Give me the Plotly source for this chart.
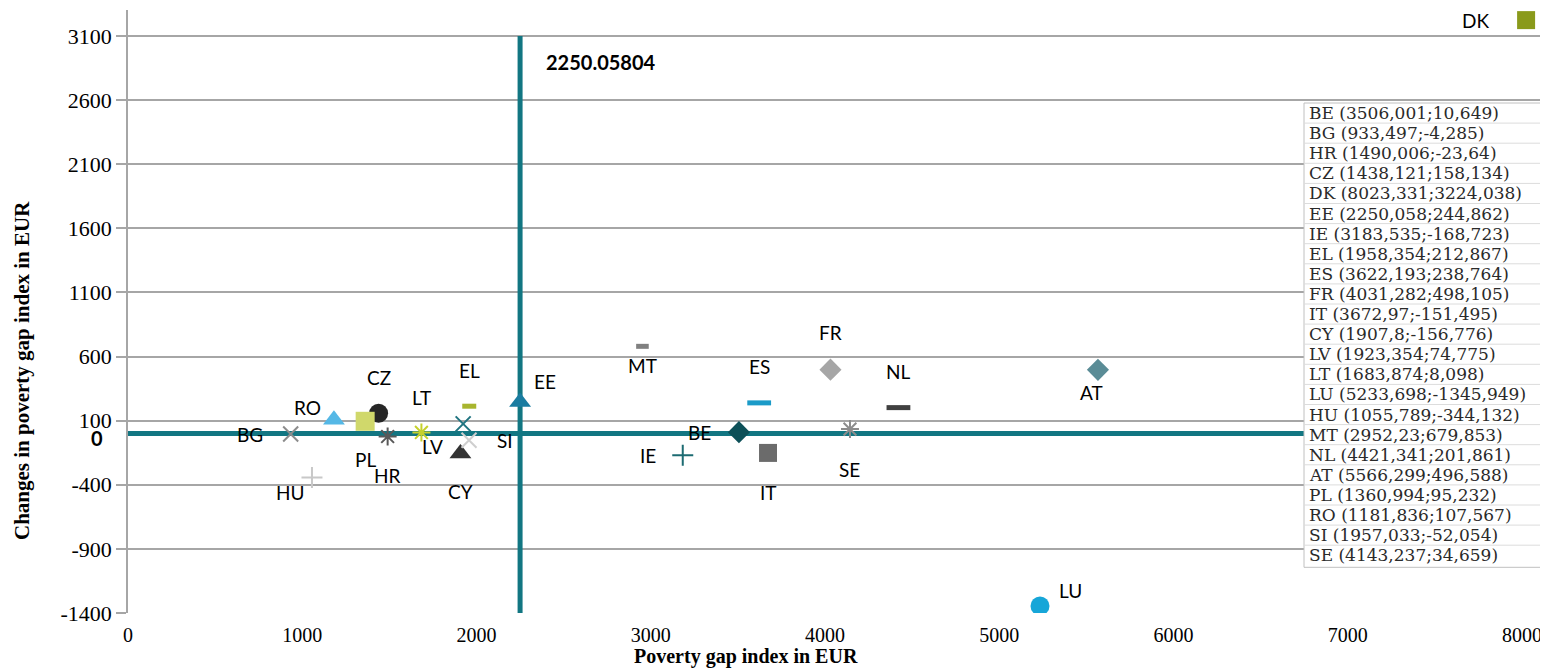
import plotly.graph_objects as go

# ---------------- data ----------------
countries = ["BE", "BG", "HR", "CZ", "DK", "EE", "IE", "EL", "ES", "FR", "IT", "CY",
             "LV", "LT", "LU", "HU", "MT", "NL", "AT", "PL", "RO", "SI", "SE"]
poverty_gap = [3506.001, 933.497, 1490.006, 1438.121, 8023.331, 2250.058, 3183.535,
               1958.354, 3622.193, 4031.282, 3672.97, 1907.8, 1923.354, 1683.874,
               5233.698, 1055.789, 2952.23, 4421.341, 5566.299, 1360.994, 1181.836,
               1957.033, 4143.237]
change = [10.649, -4.285, -23.64, 158.134, 3224.038, 244.862, -168.723, 212.867,
          238.764, 498.105, -151.495, -156.776, 74.775, 8.098, -1345.949, -344.132,
          679.853, 201.861, 496.588, 95.232, 107.567, -52.054, 34.659]
mean_gap = 2250.05804
x_ticks = [0, 1000, 2000, 3000, 4000, 5000, 6000, 7000, 8000]
y_ticks = [-1400, -900, -400, 100, 600, 1100, 1600, 2100, 2600, 3100]
y_tick_text = ["-1400", "-900", "-400", "100", "600", "1100", "1600", "2100", "2600", "3100"]

# ---------------- styles ----------------
styles = {
    "BE": ("diamond", "#0d5058", 17, 0),
    "BG": ("x-thin-open", "#8c8c8c", 15, 2),
    "HR": ("asterisk-open", "#595959", 15, 2),
    "CZ": ("circle", "#262626", 19, 0),
    "DK": ("square", "#8a9a1b", 18, 0),
    "EE": ("triangle-up", "#1a7ca0", 19, 0),
    "IE": ("cross-thin-open", "#1c6b72", 15, 2),
    "EL": ("line-ew-open", "#a8b52e", 10, 5),
    "ES": ("line-ew-open", "#1b9bc8", 17, 5),
    "FR": ("diamond", "#a6a6a6", 17, 0),
    "IT": ("square", "#6b6b6b", 18, 0),
    "CY": ("triangle-up", "#333333", 19, 0),
    "LV": ("x-thin-open", "#207480", 15, 2),
    "LT": ("asterisk-open", "#c6d12c", 15, 2),
    "LU": ("circle", "#17a6d8", 19, 0),
    "HU": ("cross-thin-open", "#c8c8c8", 15, 2),
    "MT": ("line-ew-open", "#808080", 9, 5),
    "NL": ("line-ew-open", "#404040", 17, 5),
    "AT": ("diamond", "#5a8c96", 17, 0),
    "PL": ("square", "#d0d86b", 19, 0),
    "RO": ("triangle-up", "#55b8e6", 19, 0),
    "SI": ("x-thin-open", "#cfcfcf", 15, 2),
    "SE": ("asterisk-open", "#8c8c8c", 15, 2),
}
# label pixel offsets (dx right, dy down)
label_off = {
    "BE": (-39, 0), "BG": (-41, 0), "HR": (0, 39), "CZ": (0, -36), "DK": (-51, 0),
    "EE": (25, -21), "IE": (-35, 0), "EL": (0, -36), "ES": (0, -36), "FR": (0, -37),
    "IT": (0, 40), "CY": (0, 38), "LV": (-31, 23), "LT": (0, -35), "LU": (30, -16),
    "HU": (-22, 15), "MT": (0, 19), "NL": (0, -36), "AT": (-6, 23), "PL": (0, 38),
    "RO": (-26, -12), "SI": (36, 0), "SE": (0, 40),
}

TEAL = "#127682"
GRID = "#a6a6a6"
LABEL_FONT = "Lato, Carlito, sans-serif"
SERIF = "Liberation Serif, Times New Roman, serif"
TABLE_FONT = "DejaVu Serif, Liberation Serif, serif"

x_max = 8149
y_min, y_max = -1400, 3303

# page geometry (browser body has an 8px margin)
BODY = 8
PAGE_W, PAGE_H = 1548, 670
PLOT_L, PLOT_R, PLOT_T, PLOT_B = 128, 1548, 10, 613


def px(xp):
    return (xp - PLOT_L) / (PLOT_R - PLOT_L)


def py(yp):
    return (PLOT_B - yp) / (PLOT_B - PLOT_T)


fig = go.Figure()

# mean reference lines
fig.add_trace(go.Scatter(x=[mean_gap, mean_gap], y=[y_ticks[0], y_ticks[-1]], mode="lines",
                         line=dict(color=TEAL, width=5), hoverinfo="skip", showlegend=False))
fig.add_trace(go.Scatter(x=[0, x_max], y=[0, 0], mode="lines",
                         line=dict(color=TEAL, width=5), hoverinfo="skip", showlegend=False))

annotations = []
for c, xv, yv in zip(countries, poverty_gap, change):
    sym, col, size, lw = styles[c]
    fig.add_trace(go.Scatter(
        x=[xv], y=[yv], mode="markers", name=c, showlegend=False,
        marker=dict(symbol=sym, color=col, size=size,
                    line=dict(color=col, width=lw)),
    ))
    dx, dy = label_off[c]
    annotations.append(dict(x=xv, y=yv, xref="x", yref="y", text=c, showarrow=False,
                            xshift=dx, yshift=-dy,
                            font=dict(family=LABEL_FONT, size=19, color="#000000")))

annotations.append(dict(x=mean_gap, y=y_ticks[-1], xref="x", yref="y", text="<b>2250.05804</b>",
                        showarrow=False, xanchor="left", yanchor="middle", xshift=24, yshift=-26,
                        font=dict(family=LABEL_FONT, size=20, color="#000000")))
annotations.append(dict(x=0, y=0, xref="paper", yref="y", text="<b>0</b>", showarrow=False,
                        xanchor="center", yanchor="middle", xshift=-31, yshift=-4,
                        font=dict(family=LABEL_FONT, size=20, color="#000000")))

# axis titles
annotations.append(dict(x=px(22), y=py(371), xref="paper", yref="paper", textangle=-90,
                        text="<b>Changes in poverty gap index in EUR</b>", showarrow=False,
                        xanchor="center", yanchor="middle",
                        font=dict(family=SERIF, size=21, color="#000")))
annotations.append(dict(x=px(746), y=py(669), xref="paper", yref="paper",
                        text="<b>Poverty gap index in EUR</b>", showarrow=False,
                        xanchor="center", yanchor="bottom", borderpad=0,
                        font=dict(family=SERIF, size=20, color="#000")))

# legend-like table
def fmt(v):
    s = f"{v:.3f}".rstrip("0").rstrip(".")
    return s.replace(".", ",")


shapes = []
tbl_left = 1304
tbl_top = 103
row_h = 20.1
n = len(countries)

shapes.append(dict(type="rect", xref="paper", yref="paper", layer="above",
                   x0=px(tbl_left), x1=px(PAGE_W + 5), y0=py(tbl_top + n * row_h + 2), y1=py(tbl_top),
                   fillcolor="white", line=dict(color="#c0c0c0", width=1)))
for i in range(1, n):
    yy = tbl_top + i * row_h
    shapes.append(dict(type="line", xref="paper", yref="paper", layer="above",
                       x0=px(tbl_left), x1=px(PAGE_W), y0=py(yy), y1=py(yy),
                       line=dict(color="#dcdcdc", width=1)))
for i, (c, xv, yv) in enumerate(zip(countries, poverty_gap, change)):
    yc = tbl_top + (i + 0.5) * row_h
    annotations.append(dict(x=px(tbl_left + 3), y=py(yc), xref="paper", yref="paper",
                            text=f"{c} ({fmt(xv)};{fmt(yv)})", showarrow=False,
                            xanchor="left", yanchor="middle",
                            font=dict(family=TABLE_FONT, size=17, color="#2a2a2a")))

fig.update_layout(
    width=PAGE_W - BODY, height=PAGE_H - BODY,
    margin=dict(l=PLOT_L - BODY, r=0, t=PLOT_T - BODY, b=PAGE_H - PLOT_B),
    paper_bgcolor="white", plot_bgcolor="white",
    showlegend=False,
    annotations=annotations,
    shapes=shapes,
    xaxis=dict(range=[0, x_max], tickvals=x_ticks, showgrid=False, zeroline=False,
               showline=False, ticks="outside", ticklen=4, tickcolor="rgba(0,0,0,0)",
               tickfont=dict(family=SERIF, size=20, color="#000")),
    yaxis=dict(range=[y_min, y_max], tickvals=y_ticks, ticktext=y_tick_text,
               showgrid=True, gridcolor=GRID,
               gridwidth=2, zeroline=False, showline=True, linecolor=GRID, linewidth=1.5,
               ticks="outside", ticklen=10, tickcolor=GRID, tickwidth=2,
               tickfont=dict(family=SERIF, size=22, color="#000")),
)

fig.write_html("out.html")
